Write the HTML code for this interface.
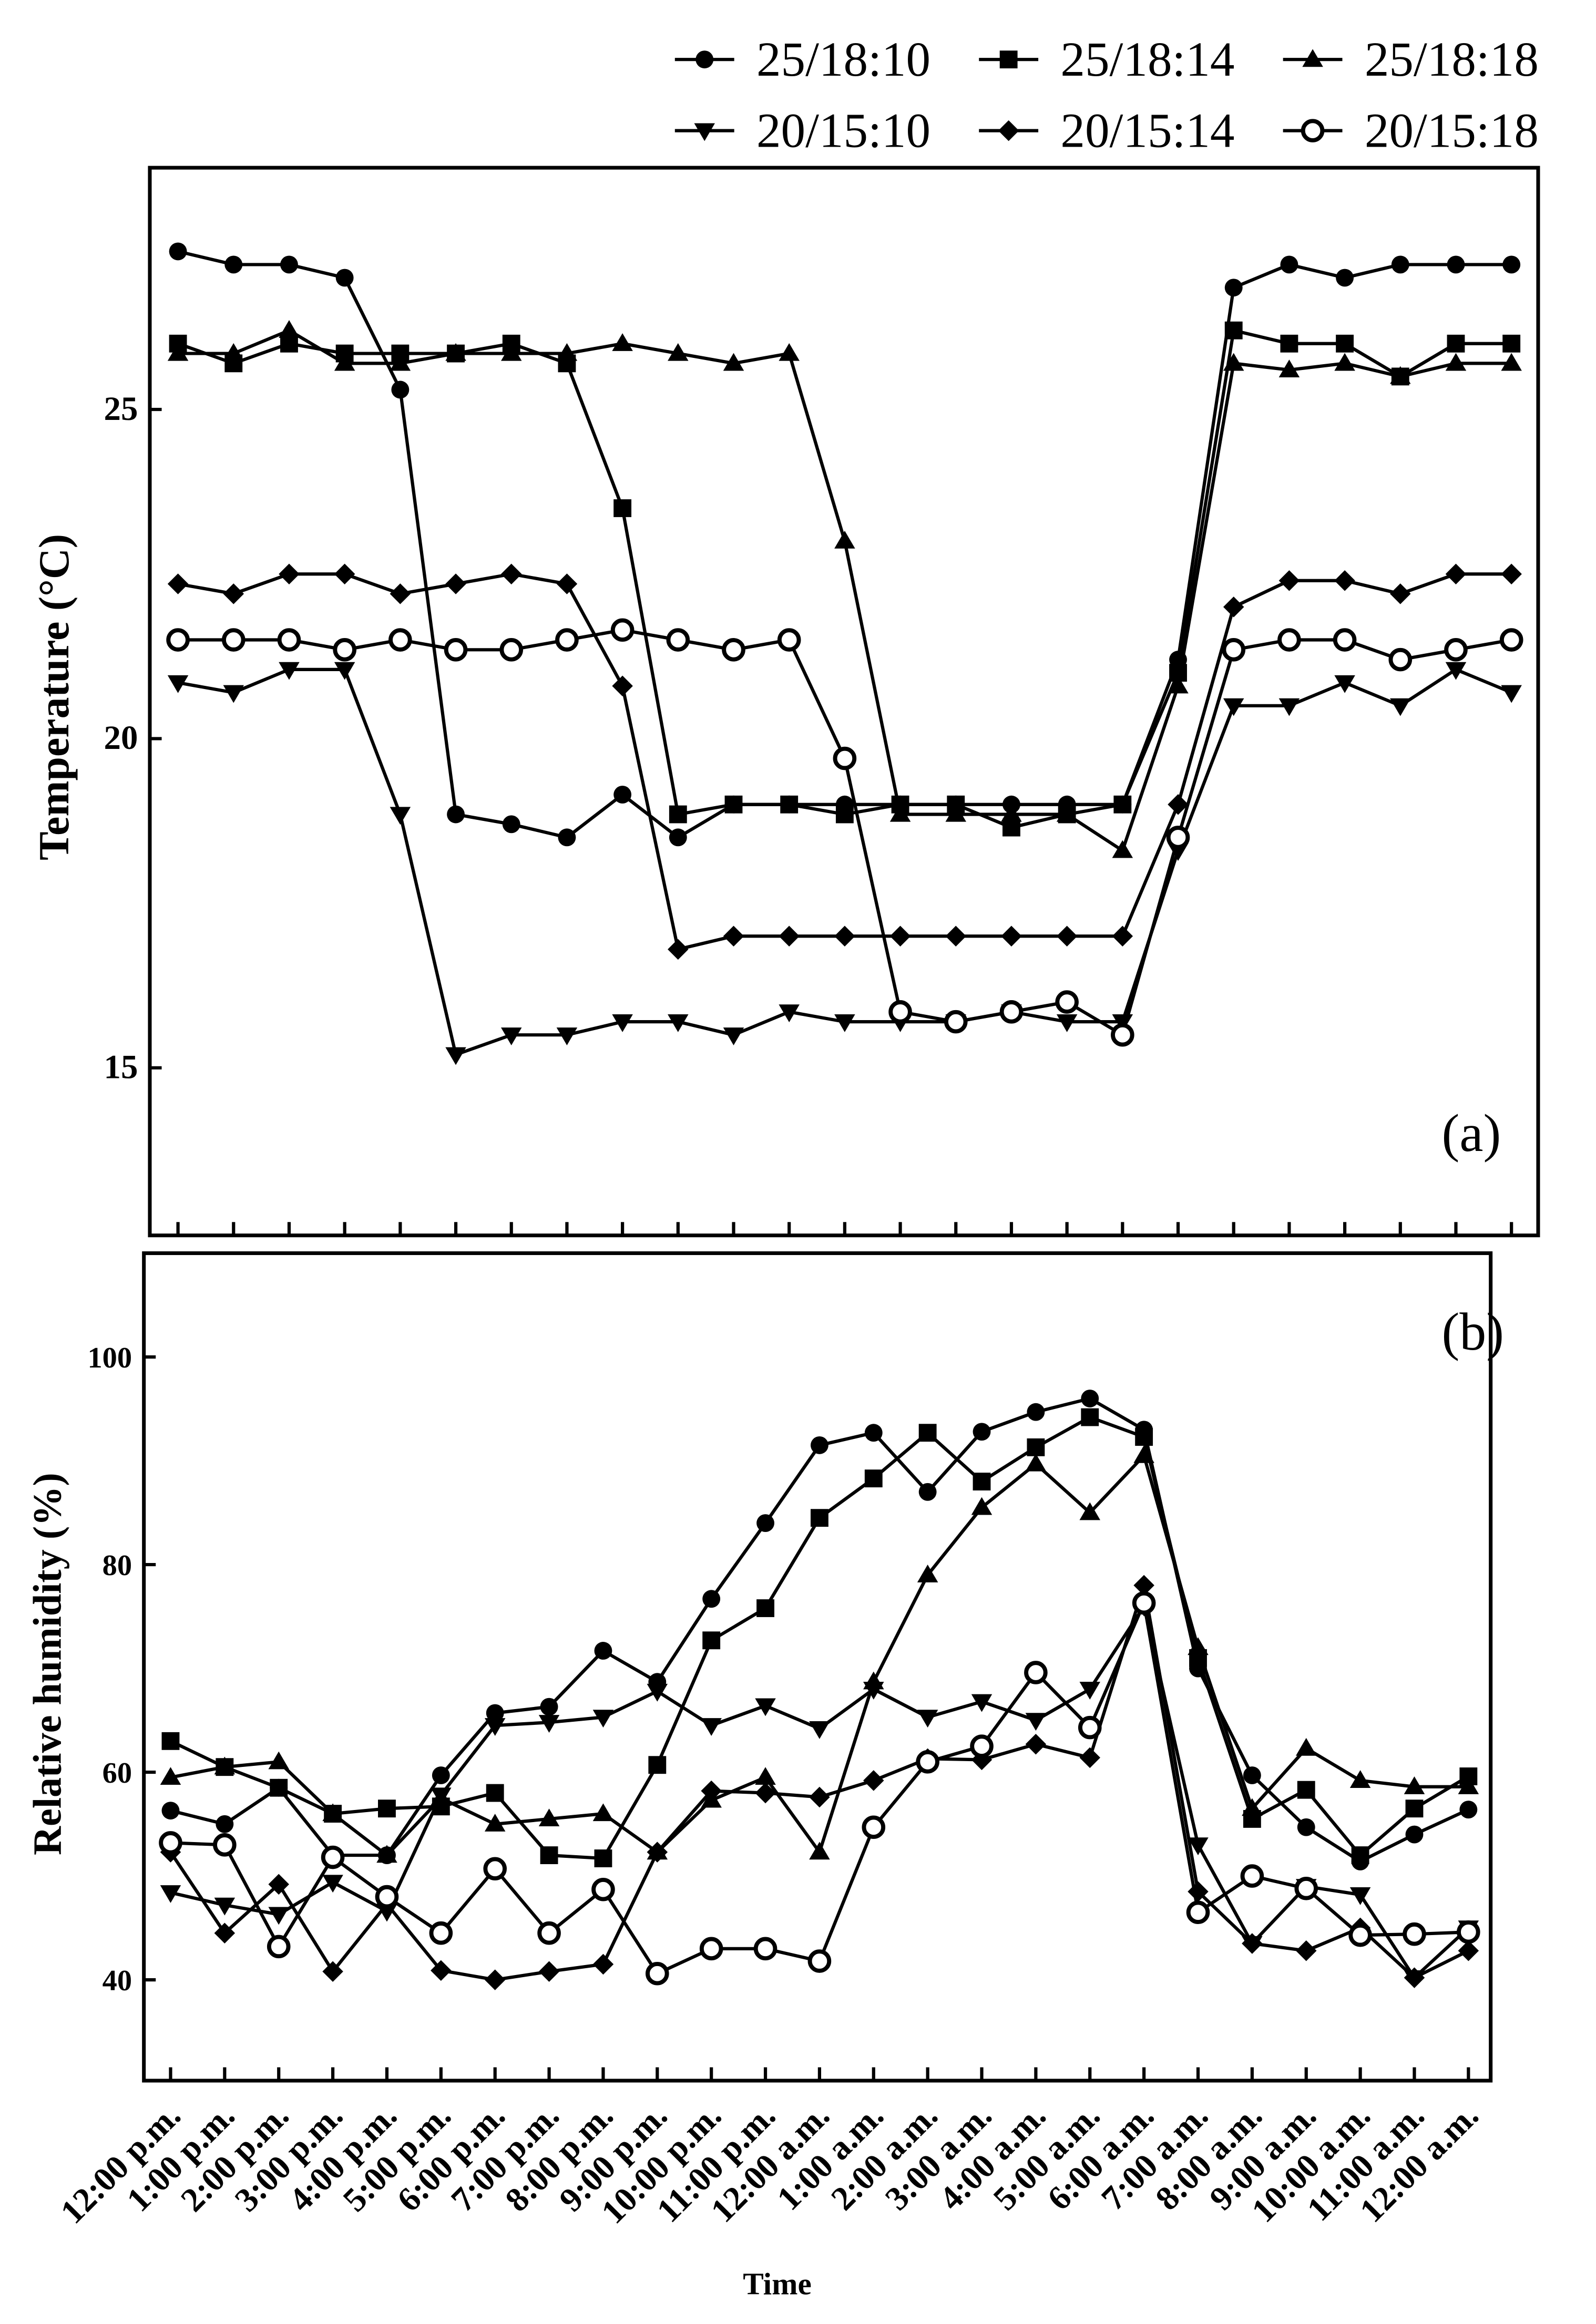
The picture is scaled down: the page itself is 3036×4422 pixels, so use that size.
<!DOCTYPE html>
<html><head><meta charset="utf-8"><style>
html,body{margin:0;padding:0;background:#fff}
svg{display:block}
text{font-family:"Liberation Serif",serif;fill:#000}
</style></head><body>
<svg id="chart" width="3036" height="4422" viewBox="0 0 1076 1567" xmlns="http://www.w3.org/2000/svg">
<rect width="1076" height="1567" fill="#fff"/>
<g id="legend"></g>
<g id="panelA"></g>
<g id="panelB"></g>
</svg>
<script>
const timeLabels = ["12:00 p.m.","1:00 p.m.","2:00 p.m.","3:00 p.m.","4:00 p.m.","5:00 p.m.","6:00 p.m.","7:00 p.m.","8:00 p.m.","9:00 p.m.","10:00 p.m.","11:00 p.m.","12:00 a.m.","1:00 a.m.","2:00 a.m.","3:00 a.m.","4:00 a.m.","5:00 a.m.","6:00 a.m.","7:00 a.m.","8:00 a.m.","9:00 a.m.","10:00 a.m.","11:00 a.m.","12:00 a.m."];
const seriesNames = ["25/18:10","25/18:14","25/18:18","20/15:10","20/15:14","20/15:18"];
const markers = ["circle","square","triangle","invtriangle","diamond","opencircle"];
const tempTicks = [15,20,25];
const rhTicks = [40,60,80,100];
const temp_25_18_10 = [27.4,27.2,27.2,27.0,25.3,18.85,18.7,18.5,19.15,18.5,19.0,19.0,19.0,19.0,19.0,19.0,19.0,19.0,21.2,26.85,27.2,27.0,27.2,27.2,27.2];
const temp_25_18_14 = [26.0,25.7,26.0,25.85,25.85,25.85,26.0,25.7,23.5,18.85,19.0,19.0,18.85,19.0,19.0,18.65,18.85,19.0,21.0,26.2,26.0,26.0,25.5,26.0,26.0];
const temp_25_18_18 = [25.85,25.85,26.2,25.7,25.7,25.85,25.85,25.85,26.0,25.85,25.7,25.85,23.0,18.85,18.85,18.85,18.85,18.3,20.8,25.7,25.6,25.7,25.5,25.7,25.7];
const temp_20_15_10 = [20.85,20.7,21.05,21.05,18.85,15.2,15.5,15.5,15.7,15.7,15.5,15.85,15.7,15.7,15.7,15.85,15.7,15.7,18.3,20.5,20.5,20.85,20.5,21.05,20.7];
const temp_20_15_14 = [22.35,22.2,22.5,22.5,22.2,22.35,22.5,22.35,20.8,16.8,17.0,17.0,17.0,17.0,17.0,17.0,17.0,17.0,19.0,22.0,22.4,22.4,22.2,22.5,22.5];
const temp_20_15_18 = [21.5,21.5,21.5,21.35,21.5,21.35,21.35,21.5,21.65,21.5,21.35,21.5,19.7,15.85,15.7,15.85,16.0,15.5,18.5,21.35,21.5,21.5,21.2,21.35,21.5];
const rh_25_18_10 = [56.3,55,58.5,52,52,59.7,65.7,66.3,71.7,68.7,76.7,84,91.5,92.7,87,92.8,94.7,96,93,70,59.7,54.7,51.4,54,56.4];
const rh_25_18_14 = [63,60.5,58.5,56,56.5,56.7,58,52,51.7,60.7,72.7,75.8,84.5,88.3,92.7,88,91.3,94.2,92.3,71,55.5,58.3,52,56.5,59.6];
const rh_25_18_18 = [59.5,60.5,61,56,52,57.5,55,55.5,56,52.3,57.3,59.5,52.3,68.7,79,85.5,89.7,85,90.5,72,56.5,62.3,59.2,58.6,58.6];
const rh_20_15_10 = [48.4,47.2,46.3,49.4,46.6,57.8,64.5,64.8,65.3,67.8,64.5,66.4,64.2,68,65.3,66.8,65,68,76,53,43.5,49,48.2,40.2,45];
const rh_20_15_14 = [52.3,44.5,49.2,40.8,47.3,40.9,40,40.8,41.5,52.3,58.2,58,57.6,59.2,61.3,61.2,62.7,61.4,78,48.5,43.5,42.8,45,40.2,42.8];
const rh_20_15_18 = [53.2,53,43.2,51.8,48,44.5,50.7,44.5,48.7,40.6,43,43,41.8,54.7,61,62.5,69.6,64.3,76.3,46.5,50,48.8,44.3,44.4,44.6];
const tempSeries = [temp_25_18_10,temp_25_18_14,temp_25_18_18,temp_20_15_10,temp_20_15_14,temp_20_15_18];
const rhSeries = [rh_25_18_10,rh_25_18_14,rh_25_18_18,rh_20_15_10,rh_20_15_14,rh_20_15_18];

const NS="http://www.w3.org/2000/svg";
function mk(tag,attrs,parent){const e=document.createElementNS(NS,tag);for(const k in attrs)e.setAttribute(k,attrs[k]);parent.appendChild(e);return e;}
function marker(type,x,y,g){
  let e;
  if(type==="circle") e=mk("circle",{cx:x,cy:y,r:6,fill:"#000"},g);
  else if(type==="opencircle") e=mk("circle",{cx:x,cy:y,r:6.5,fill:"#fff",stroke:"#000","stroke-width":2.8},g);
  else if(type==="square") e=mk("rect",{x:x-6,y:y-6,width:12,height:12,fill:"#000"},g);
  else if(type==="triangle") e=mk("polygon",{points:`${x},${y-7} ${x+7},${y+5} ${x-7},${y+5}`,fill:"#000"},g);
  else if(type==="invtriangle") e=mk("polygon",{points:`${x},${y+7} ${x+7},${y-5} ${x-7},${y-5}`,fill:"#000"},g);
  else e=mk("polygon",{points:`${x},${y-7} ${x+7},${y} ${x},${y+7} ${x-7},${y}`,fill:"#000"},g);
  
  
  return e;
}
function panel(g,cfg,series,ticks,key){
  const xs=i=>cfg.x0+(cfg.x1-cfg.x0)*i/(timeLabels.length-1);
  const ys=v=>cfg.yRef+(cfg.vRef-v)*cfg.ppu;
  const fr=mk("rect",{x:cfg.fx0,y:cfg.fy0,width:cfg.fx1-cfg.fx0,height:cfg.fy1-cfg.fy0,fill:"none",stroke:"#000","stroke-width":2.5},g);
  
  
  ticks.forEach(t=>{
    const y=ys(t);
    mk("line",{x1:cfg.fx0,x2:cfg.fx0+8,y1:y,y2:y,stroke:"#000","stroke-width":2.2},g);
    const tx=mk("text",{x:cfg.fx0-8,y:y+7,"text-anchor":"end","font-size":cfg.tickFs,"font-weight":"bold"},g);
    tx.textContent=t;
    
    
  });
  timeLabels.forEach((l,i)=>{
    mk("line",{x1:xs(i),x2:xs(i),y1:cfg.fy1,y2:cfg.fy1-9,stroke:"#000","stroke-width":2.2},g);
  });
  series.forEach((s,k)=>{
    const sg=mk("g",{},g);
    
    
    mk("polyline",{points:s.map((v,i)=>xs(i)+","+ys(v)).join(" "),fill:"none",stroke:"#000","stroke-width":2.2},sg);
    s.forEach((v,i)=>marker(markers[k],xs(i),ys(v),sg));
  });
  const lb=mk("text",{x:cfg.lblX,y:cfg.lblY,"font-size":36},g);
  lb.textContent=cfg.lbl;
  
  
  const yt=mk("text",{x:0,y:0,"text-anchor":"middle","font-size":cfg.titleFs,"font-weight":"bold",transform:`translate(${cfg.titleX},${cfg.titleY}) rotate(-90)`},g);
  yt.textContent=cfg.title;
  
  
  return xs;
}
const gA=document.getElementById("panelA"), gB=document.getElementById("panelB");
panel(gA,{x0:120,x1:1019,fx0:101,fx1:1037,fy0:113,fy1:833,yRef:498,vRef:20,ppu:44.4,tickFs:23,lbl:"(a)",lblX:972,lblY:776,title:"Temperature (°C)",titleX:46,titleY:470,titleFs:29},tempSeries,tempTicks,"temp");
const xsB=panel(gB,{x0:115,x1:990,fx0:97,fx1:1005,fy0:845,fy1:1403,yRef:1335,vRef:40,ppu:7,tickFs:20,lbl:"(b)",lblX:972,lblY:910,title:"Relative humidity (%)",titleX:41,titleY:1122,titleFs:27},rhSeries,rhTicks,"rh");
timeLabels.forEach((l,i)=>{
  const x=xsB(i), y=1428;
  const t=mk("text",{x:0,y:0,"text-anchor":"end","font-size":23,"font-weight":"bold",transform:`translate(${x+8},${y}) rotate(-45)`},gB);
  t.textContent=l;
  
  
});
const xt=mk("text",{x:524,y:1547,"text-anchor":"middle","font-size":21,"font-weight":"bold"},gB);
xt.textContent="Time";


const lg=document.getElementById("legend");
const legPos=[[455,40],[660,40],[865,40],[455,88],[660,88],[865,88]];
seriesNames.forEach((n,k)=>{
  const [x,y]=legPos[k];
  const eg=mk("g",{},lg);
  
  
  mk("line",{x1:x,x2:x+40,y1:y,y2:y,stroke:"#000","stroke-width":2.2},eg);
  marker(markers[k],x+20,y,eg);
  const t=mk("text",{x:x+55,y:y+11,"font-size":33},eg);
  t.textContent=n;
});
</script>
</body></html>
